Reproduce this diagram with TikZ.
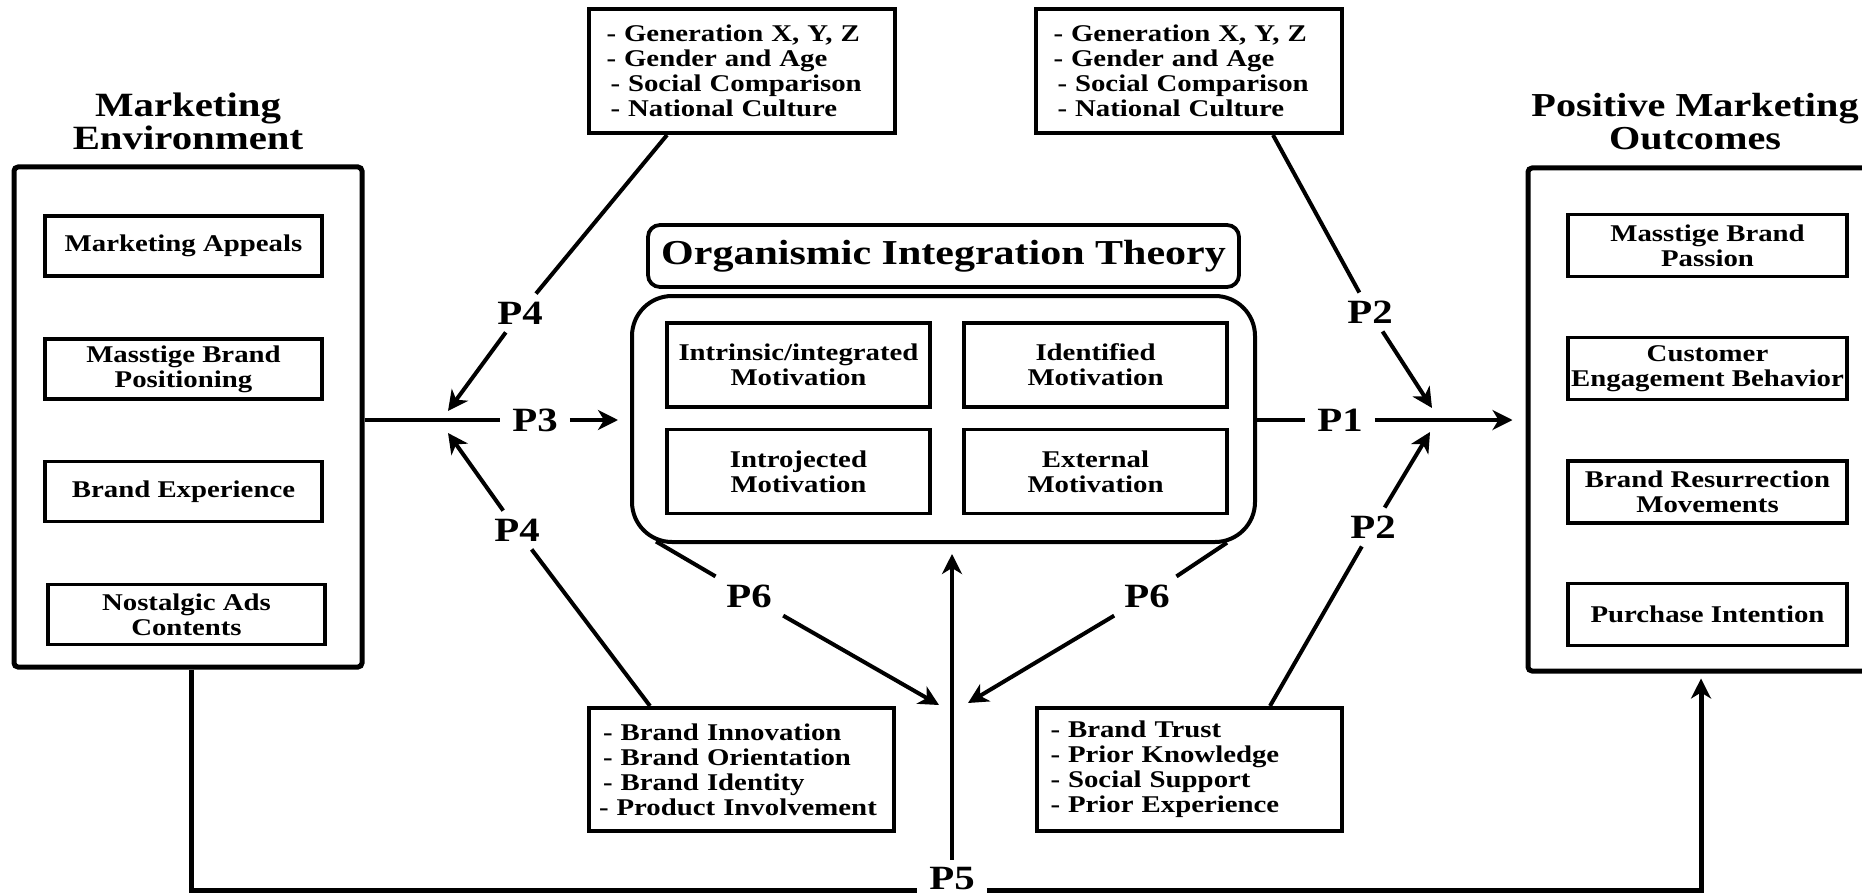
\documentclass[tikz,border=0pt]{standalone}
\usepackage{fontspec}
\setmainfont{Liberation Serif}[FakeStretch=1.2]
\usetikzlibrary{arrows.meta}
\begin{document}
\begin{tikzpicture}[x=1pt,y=-1pt,
  >={Stealth[length=20pt,width=20pt,inset=6pt]},
  txt/.style={font=\fontsize{24}{25}\selectfont\bfseries},
  head/.style={font=\fontsize{34}{33}\selectfont\bfseries, align=center, inner sep=0pt},
  outerbox/.style={draw, line width=5pt, rounded corners=4pt, inner sep=0pt},
  itembox/.style={draw, line width=3.8pt, inner sep=0pt, align=center, txt},
  listbox/.style={draw, line width=4pt, inner ysep=0pt, align=left, txt},
  plabel/.style={font=\fontsize{34}{34}\selectfont\bfseries, inner xsep=12pt, inner ysep=8pt},
  conn/.style={line width=4pt},
  loopline/.style={line width=5pt}]

\clip (0,0) rectangle (1862,896);

% ---------- Marketing environment (left) ----------
\node[head] (metitle) at (188,121) {Marketing\\Environment};
\node[outerbox, minimum width=348pt, minimum height=500pt] (menv) at (188,417) {};
\node[itembox, minimum width=277pt, minimum height=60pt] (ma)  at (183.5,246)   {Marketing Appeals};
\node[itembox, minimum width=277pt, minimum height=60pt] (mbp) at (183.5,369)   {Masstige Brand\\Positioning};
\node[itembox, minimum width=277pt, minimum height=60pt] (be)  at (183.5,491.5) {Brand Experience};
\node[itembox, minimum width=277pt, minimum height=60pt] (nac) at (186.5,614.5) {Nostalgic Ads\\Contents};

% ---------- Positive marketing outcomes (right) ----------
\node[head, font=\fontsize{33.5}{33}\selectfont\bfseries] (pmotitle) at (1695,122) {Positive Marketing\\Outcomes};
\node[outerbox, minimum width=359pt, minimum height=503pt] (pmo) at (1707.5,419.5) {};
\node[itembox, minimum width=279pt, minimum height=62pt] (mbpa) at (1707.5,245.5) {Masstige Brand\\Passion};
\node[itembox, minimum width=279pt, minimum height=62pt] (ceb)  at (1707.5,368.5) {Customer\\Engagement Behavior};
\node[itembox, minimum width=279pt, minimum height=62pt] (brm)  at (1707.5,492)   {Brand Resurrection\\Movements};
\node[itembox, minimum width=279pt, minimum height=62pt] (pi)   at (1707.5,614.5) {Purchase Intention};

% ---------- Organismic integration theory (centre) ----------
\node[draw, line width=3.8pt, rounded corners=12pt, minimum width=591pt, minimum height=62pt,
      font=\fontsize{35}{35}\selectfont\bfseries] (oittitle) at (943.5,256) {Organismic Integration Theory};
\node[draw, line width=4pt, rounded corners=40pt, minimum width=623pt, minimum height=246pt] (oit) at (943.5,419) {};
\node[itembox, minimum width=263pt, minimum height=84pt] (im)  at (798.5,365)   {Intrinsic/integrated\\Motivation};
\node[itembox, minimum width=263pt, minimum height=84pt] (idm) at (1095.5,365)  {Identified\\Motivation};
\node[itembox, minimum width=263pt, minimum height=84pt] (ijm) at (798.5,471.5) {Introjected\\Motivation};
\node[itembox, minimum width=263pt, minimum height=84pt] (exm) at (1095.5,471.5){External\\Motivation};

% ---------- Moderator lists ----------
\node[listbox, text width=270pt, inner xsep=18pt, minimum height=124pt] (tl) at (741.5,71)
  {- Generation X, Y, Z\\- Gender and Age\\\hspace*{4pt}- Social Comparison\\\hspace*{4pt}- National Culture};
\node[listbox, text width=270pt, inner xsep=18pt, minimum height=124pt] (tr) at (1188.5,71)
  {- Generation X, Y, Z\\- Gender and Age\\\hspace*{4pt}- Social Comparison\\\hspace*{4pt}- National Culture};
\node[listbox, text width=285pt, inner xsep=10pt, minimum height=123pt] (bl) at (741.5,769.5)
  {\hspace*{4pt}- Brand Innovation\\\hspace*{4pt}- Brand Orientation\\\hspace*{4pt}- Brand Identity\\- Product Involvement};
\node[listbox, text width=285pt, inner xsep=10pt, minimum height=123pt] (br) at (1189,769.5)
  {\hspace*{4pt}- Brand Trust\\\hspace*{4pt}- Prior Knowledge\\\hspace*{4pt}- Social Support\\\hspace*{4pt}- Prior Experience};

% ---------- Proposition labels ----------
\node[plabel] (p4a) at (520,313) {P4};
\node[plabel] (p4b) at (517,530) {P4};
\node[plabel] (p3)  at (535,420) {P3};
\node[plabel] (p1)  at (1340,420) {P1};
\node[plabel] (p2a) at (1370,312) {P2};
\node[plabel] (p2b) at (1373,527) {P2};
\node[plabel] (p6a) at (749,596) {P6};
\node[plabel] (p6b) at (1147,596) {P6};
\node[plabel] (p5)  at (952,879) {P5};

% arrow tips that end in open space
\coordinate (j4a) at (448,411);
\coordinate (j4b) at (448,433);
\coordinate (j2a) at (1432,408);
\coordinate (j2b) at (1430,432);
\coordinate (j6a) at (939,705);
\coordinate (j6b) at (968,703);

% ---------- Connectors ----------
% P3 and P1 main path
\draw[conn] ([yshift=-3pt]menv.east) -- (p3);
\draw[conn,->] (p3) -- ([xshift=-12pt,yshift=-1pt]oit.west);
\draw[conn] ([yshift=-1pt]oit.east) -- (p1);
\draw[conn,->] (p1) -- ([xshift=-13pt,yshift=-0.5pt]pmo.west);

% P4 moderators
\draw[conn] ([xshift=-74.5pt]tl.south) -- (p4a);
\draw[conn,->] (p4a) -- (j4a);
\draw[conn] ([xshift=-91.5pt]bl.north) -- (p4b);
\draw[conn,->] (p4b) -- (j4b);

% P2 moderators
\draw[conn] ([xshift=84.5pt]tr.south) -- (p2a);
\draw[conn,->] (p2a) -- (j2a);
\draw[conn] ([xshift=81pt]br.north) -- (p2b);
\draw[conn,->] (p2b) -- (j2b);

% P6 feedback
\draw[conn] ([xshift=26pt,yshift=2.5pt]oit.south west) -- (p6a);
\draw[conn,->] (p6a) -- (j6a);
\draw[conn] ([xshift=-30pt,yshift=1.3pt]oit.south east) -- (p6b);
\draw[conn,->] (p6b) -- (j6b);

% P5 loop along the bottom
\draw[loopline] ([xshift=3pt]menv.south) |- ([yshift=-11pt]p5.west);
\draw[loopline,->] ([yshift=-11pt]p5.east) -| ([xshift=-6.5pt,yshift=-5pt]pmo.south);
\draw[conn,->] (p5) -- ([xshift=8.5pt,yshift=-10pt]oit.south);

\end{tikzpicture}
\end{document}
